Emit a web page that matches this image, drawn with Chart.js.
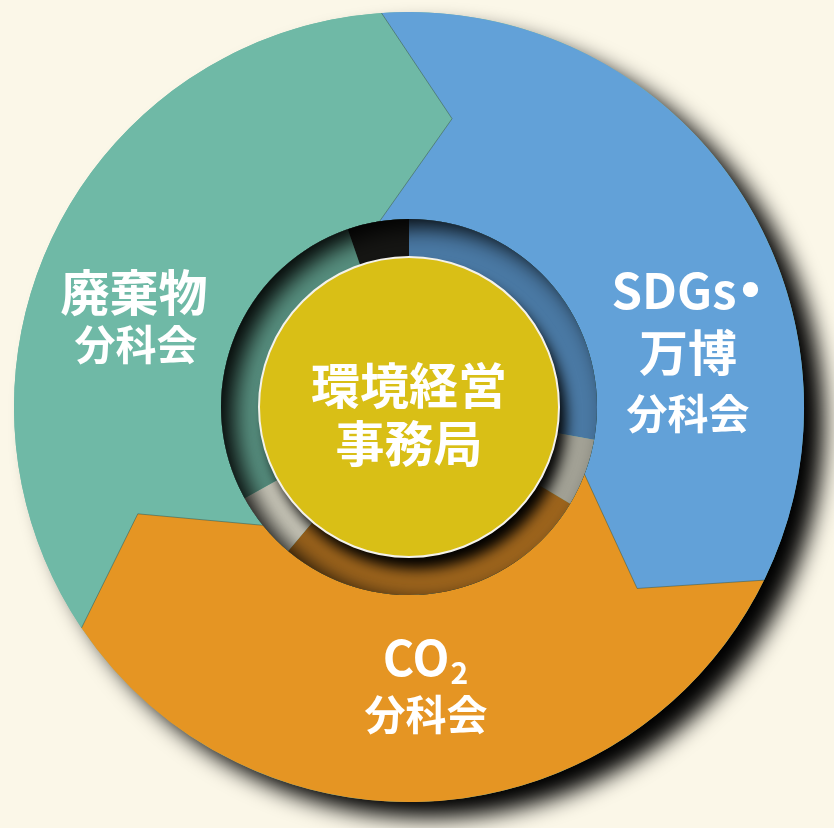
<!DOCTYPE html>
<html lang="ja">
<head>
    <meta charset="UTF-8">
    <title>環境経営事務局と分科会</title>
    <style>
        html, body {
            margin: 0;
            padding: 0;
            background: #fbf7e8;
            overflow: hidden;
        }

        .chart-wrap {
            width: 834px;
            height: 828px;
            position: relative;
        }
    </style>
</head>
<body>
    <div class="chart-wrap">
        <canvas id="orgChart"></canvas>
    </div>

    <script src="https://cdn.jsdelivr.net/npm/chart.js"></script>
    <script>
        // outer ring: the three working groups (equal thirds, clockwise from top)
        const groupNames = ['SDGs・万博 分科会', 'CO₂ 分科会', '廃棄物 分科会'];
        const groupShares = [1, 1, 1];
        const groupColors = ['#62a1d8', '#e59523', '#6fb9a6'];

        // inner groove: darker band per group with gaps between them (degrees)
        const grooveParts = ['SDGs・万博', '', 'CO₂', '', '廃棄物', ''];
        const grooveDegrees = [100, 21, 99, 21, 100, 19];
        const grooveColors = ['#4a79a4', '#a3a296', '#9e651d', '#cac8ba', '#578f7f', '#161614'];

        // hub in the middle
        const hubLines = ['環境経営', '事務局'];
        const hubValue = [1];

        // text lines drawn on each group
        const groupLines = [
            ['SDGs・', '万博', '分科会'],
            ['CO₂', '分科会'],
            ['廃棄物', '分科会']
        ];

        const FONT = '"Noto Sans CJK JP", "Noto Sans", sans-serif';
        const CHEVRON = { tip: 17.5, outer: 5 };   // degrees past the boundary
        // offsets from the centre, per text line
        const lineStyle = [
            [{ dx: 277, dy: -117, size: 49 }, { dx: 279, dy: -55, size: 49 }, { dx: 279, dy: 6, size: 41 }],
            [{ dx: 16, dy: 251, size: 48 }, { dx: 17, dy: 307, size: 41 }],
            [{ dx: -275, dy: -115, size: 49 }, { dx: -273, dy: -63, size: 41 }]
        ];
        const hubStyle = [{ dy: -22, size: 49 }, { dy: 36, size: 49 }];

        const rad = d => d * Math.PI / 180;

        function chevronPath(ctx, arc) {
            const p = arc.getProps(['x', 'y', 'startAngle', 'endAngle', 'innerRadius', 'outerRadius'], true);
            const rm = (p.innerRadius + p.outerRadius) / 2;
            const pt = (r, t) => [p.x + r * Math.cos(t), p.y + r * Math.sin(t)];
            const s = p.startAngle, e = p.endAngle;
            ctx.beginPath();
            ctx.moveTo(...pt(p.innerRadius, s));
            ctx.lineTo(...pt(rm, s + rad(CHEVRON.tip)));
            ctx.lineTo(...pt(p.outerRadius, s + rad(CHEVRON.outer)));
            ctx.arc(p.x, p.y, p.outerRadius, s + rad(CHEVRON.outer), e + rad(CHEVRON.outer));
            ctx.lineTo(...pt(rm, e + rad(CHEVRON.tip)));
            ctx.lineTo(...pt(p.innerRadius, e));
            ctx.arc(p.x, p.y, p.innerRadius, e, s, true);
            ctx.closePath();
        }

        function drawLine(ctx, txt, x, y, size) {
            const font = s => `bold ${s}px ${FONT}`;
            ctx.font = font(size);
            if (txt.includes('₂')) {
                // chemical subscript
                const base = txt.replace('₂', '');
                const sub = Math.round(size * 0.62);
                const w1 = ctx.measureText(base).width;
                ctx.font = font(sub);
                const w2 = ctx.measureText('2').width;
                const x0 = x - (w1 + w2) / 2;
                ctx.textAlign = 'left';
                ctx.font = font(size);
                ctx.fillText(base, x0, y);
                ctx.font = font(sub);
                ctx.fillText('2', x0 + w1 + 1, y + size * 0.3);
                ctx.textAlign = 'center';
            } else if (txt.endsWith('・')) {
                // keep the middle dot tight against the word
                const base = txt.slice(0, -1);
                const w1 = ctx.measureText(base).width;
                const gap = 24;
                const x0 = x - (w1 + gap) / 2;
                ctx.textAlign = 'left';
                ctx.fillText(base, x0, y);
                ctx.textAlign = 'center';
                ctx.font = font(Math.round(size * 1.2));
                ctx.fillText('・', x0 + w1 + gap / 2 + 2, y);
            } else {
                ctx.fillText(txt, x, y);
            }
        }

        const decor = {
            id: 'decor',
            beforeDatasetDraw(chart, args) {
                const ctx = chart.ctx;
                const dpr = chart.currentDevicePixelRatio || 1;
                const arcs = args.meta.data;
                if (args.index === 0) {
                    const p = arcs[0].getProps(['x', 'y', 'outerRadius'], true);
                    // drop shadow of the whole disc
                    ctx.save();
                    ctx.shadowColor = 'rgba(0,0,0,1)';
                    ctx.shadowBlur = 22 * dpr;
                    ctx.shadowOffsetX = 20 * dpr;
                    ctx.shadowOffsetY = 16 * dpr;
                    ctx.fillStyle = groupColors[2];
                    ctx.beginPath();
                    ctx.arc(p.x, p.y, p.outerRadius, 0, Math.PI * 2);
                    ctx.fill();
                    ctx.restore();

                    arcs.forEach(arc => {
                        ctx.save();
                        chevronPath(ctx, arc);
                        ctx.fillStyle = arc.options.backgroundColor;
                        ctx.fill();
                        ctx.restore();
                    });
                    // thin seams on the arrow edges
                    arcs.forEach(arc => {
                        const p = arc.getProps(['x', 'y', 'startAngle', 'innerRadius', 'outerRadius'], true);
                        const rm = (p.innerRadius + p.outerRadius) / 2;
                        const pt = (r, t) => [p.x + r * Math.cos(t), p.y + r * Math.sin(t)];
                        ctx.save();
                        ctx.strokeStyle = 'rgba(50,70,60,0.45)';
                        ctx.lineWidth = 1;
                        ctx.beginPath();
                        ctx.moveTo(...pt(p.innerRadius, p.startAngle));
                        ctx.lineTo(...pt(rm, p.startAngle + rad(CHEVRON.tip)));
                        ctx.lineTo(...pt(p.outerRadius, p.startAngle + rad(CHEVRON.outer)));
                        ctx.stroke();
                        ctx.restore();
                    });
                    return false;
                }
                if (args.index === 2) {
                    ctx.save();
                    ctx.shadowColor = 'rgba(0,0,0,1)';
                    ctx.shadowBlur = 14 * dpr;
                    ctx.shadowOffsetX = 7 * dpr;
                    ctx.shadowOffsetY = 12 * dpr;
                }
            },
            afterDatasetDraw(chart, args) {
                const ctx = chart.ctx;
                const dpr = chart.currentDevicePixelRatio || 1;
                const arcs = args.meta.data;
                if (args.index === 1) {
                    // inset shadow in the groove
                    const p = arcs[0].getProps(['x', 'y', 'innerRadius', 'outerRadius'], true);
                    ctx.save();
                    ctx.beginPath();
                    ctx.arc(p.x, p.y, p.outerRadius, 0, Math.PI * 2);
                    ctx.arc(p.x, p.y, p.innerRadius, 0, Math.PI * 2, true);
                    ctx.clip();
                    ctx.beginPath();
                    ctx.rect(p.x - p.outerRadius - 300, p.y - p.outerRadius - 300, p.outerRadius * 2 + 600, p.outerRadius * 2 + 600);
                    ctx.arc(p.x, p.y, p.outerRadius, 0, Math.PI * 2, true);
                    ctx.shadowColor = 'rgba(0,0,0,0.95)';
                    ctx.shadowBlur = 22 * dpr;
                    ctx.shadowOffsetX = 13 * dpr;
                    ctx.shadowOffsetY = 8 * dpr;
                    ctx.fillStyle = '#000';
                    ctx.fill();
                    ctx.restore();
                }
                if (args.index === 2) {
                    ctx.restore();
                    const p = arcs[0].getProps(['x', 'y', 'outerRadius'], true);
                    ctx.save();
                    ctx.strokeStyle = '#f4f2ea';
                    ctx.lineWidth = 2;
                    ctx.beginPath();
                    ctx.arc(p.x, p.y, p.outerRadius, 0, Math.PI * 2);
                    ctx.stroke();
                    ctx.restore();
                }
            },
            afterDraw(chart) {
                const ctx = chart.ctx;
                const c = chart.getDatasetMeta(0).data[0].getProps(['x', 'y'], true);
                ctx.save();
                ctx.fillStyle = '#ffffff';
                ctx.textAlign = 'center';
                ctx.textBaseline = 'middle';
                groupLines.forEach((lines, g) => {
                    lines.forEach((txt, i) => {
                        const st = lineStyle[g][i];
                        drawLine(ctx, txt, c.x + st.dx, c.y + st.dy, st.size);
                    });
                });
                hubLines.forEach((txt, i) => {
                    drawLine(ctx, txt, c.x, c.y + hubStyle[i].dy, hubStyle[i].size);
                });
                ctx.restore();
            }
        };

        const ctx = document.getElementById('orgChart').getContext('2d');
        new Chart(ctx, {
            type: 'doughnut',
            data: {
                labels: groupNames,
                datasets: [
                    {
                        label: '分科会',
                        data: groupShares,
                        backgroundColor: groupColors,
                        rotation: -9,
                        weight: 207,
                        order: 3
                    },
                    {
                        label: '連携',
                        data: grooveDegrees,
                        backgroundColor: grooveColors,
                        rotation: 0,
                        weight: 38,
                        order: 2
                    },
                    {
                        label: hubLines.join(''),
                        data: hubValue,
                        backgroundColor: ['#d9bf16'],
                        weight: 150,
                        order: 1
                    }
                ]
            },
            options: {
                responsive: true,
                maintainAspectRatio: false,
                animation: false,
                events: [],
                cutout: 0,
                borderWidth: 0,
                offset: 0,
                hoverOffset: 0,
                spacing: 0,
                layout: {
                    padding: { left: 14, right: 30, top: 12, bottom: 26 }
                },
                plugins: {
                    legend: { display: false },
                    tooltip: { enabled: false }
                }
            },
            plugins: [decor]
        });
    </script>
</body>
</html>
